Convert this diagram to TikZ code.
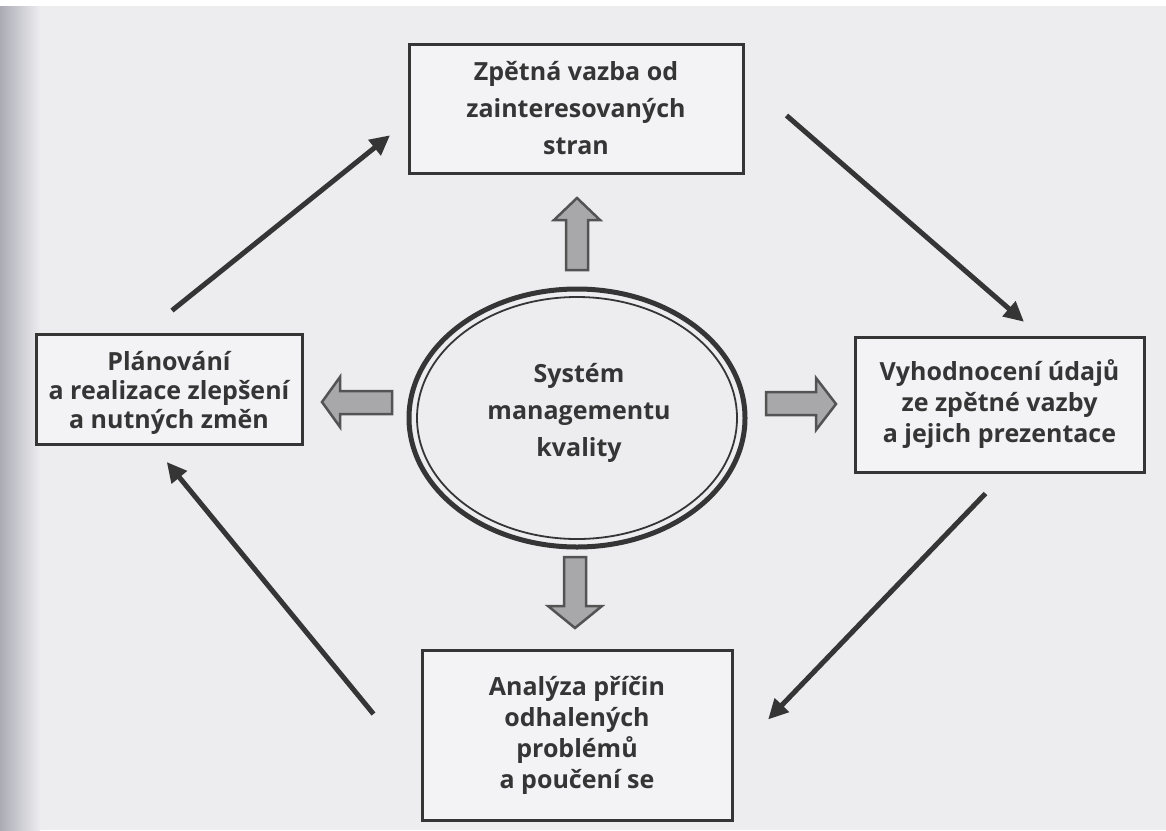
\documentclass[tikz,border=0pt]{standalone}
\usepackage{fontspec}
\setmainfont{Open Sans}
\usetikzlibrary{arrows.meta}
\definecolor{ink}{HTML}{353535}
\definecolor{paper}{HTML}{EDEDF0}
\definecolor{paperdark}{HTML}{ABABB4}
\definecolor{boxfill}{HTML}{F3F3F5}
\definecolor{blockfill}{HTML}{A8A8AA}
\tikzset{
  every node/.style={text=ink, font=\bfseries},
  stagebox/.style={draw=ink, line width=3pt, fill=boxfill, align=center, inner sep=0pt},
  flow/.style={draw=ink, line width=5pt, -{Triangle[width=19pt,length=20pt]}, shorten >=-2pt},
  blockarrow/.style={draw=ink!85, line width=2.5pt, fill=blockfill, line join=miter},
}
\begin{document}
\begin{tikzpicture}[x=1pt, y=-1pt]
  % page background with darker binding edge
  \useasboundingbox (0,0) rectangle (1166,830);
  \shade[left color=paperdark, right color=paper] (0,0) rectangle (40,830);
  \fill[paper] (40,0) rectangle (1166,830);
  \fill[white] (0,0) rectangle (1166,6);

  % stages
  \node[stagebox, minimum width=334pt, minimum height=129pt, font=\bfseries\fontsize{25}{37}\selectfont]
    (top) at (576,108.5) {Zpětná vazba od\\zainteresovaných\\stran};
  \node[stagebox, minimum width=266pt, minimum height=110pt, font=\bfseries\fontsize{25}{29}\selectfont]
    (left) at (169,389) {};
  \node[align=center, font=\bfseries\fontsize{25}{29}\selectfont] (lefttext) at (169,393)
    {Plánování\\a realizace zlepšení\\a nutných změn};
  \node[stagebox, minimum width=289pt, minimum height=135pt, font=\bfseries\fontsize{25}{31}\selectfont]
    (right) at (999.5,404.5) {Vyhodnocení údajů\\ze zpětné vazby\\a jejich prezentace};
  \node[stagebox, minimum width=310pt, minimum height=170pt, font=\bfseries\fontsize{25}{31}\selectfont]
    (bottom) at (577,735) {Analýza příčin\\odhalených\\problémů\\a poučení se};

  % central system: double ellipse
  \draw[ink, line width=5pt] (577,418) ellipse [x radius=168, y radius=129];
  \draw[ink, line width=1.8pt] (577,418) ellipse [x radius=160, y radius=121];
  \node[align=center, font=\bfseries\fontsize{25}{37}\selectfont] (qms) at (579,413)
    {Systém\\managementu\\kvality};

  % block arrows from the centre
  \draw[blockarrow] (577,198) -- (600,220) -- (588,220) -- (588,270) -- (566,270) -- (566,220) -- (554,220) -- cycle;
  \draw[blockarrow] (322,402) -- (340,377) -- (340,391) -- (392,391) -- (392,414) -- (340,414) -- (340,427) -- cycle;
  \draw[blockarrow] (836,404) -- (816,378) -- (816,392) -- (766,392) -- (766,415) -- (816,415) -- (816,430) -- cycle;
  \draw[blockarrow] (575,628) -- (548,606) -- (564,606) -- (564,557) -- (586,557) -- (586,606) -- (602,606) -- cycle;

  % cycle of stages
  \draw[flow] ([shift={(3,-22)}]left.north) -- ([shift={(-19,28)}]top.west);
  \draw[flow] ([shift={(42,7)}]top.east) -- ([shift={(23,-15)}]right.north);
  \draw[flow] ([shift={(-14,20)}]right.south) -- ([shift={(36,-17)}]bottom.east);
  \draw[flow] ([shift={(-47,-21)}]bottom.west) -- ([shift={(-1,18)}]left.south);
\end{tikzpicture}
\end{document}
